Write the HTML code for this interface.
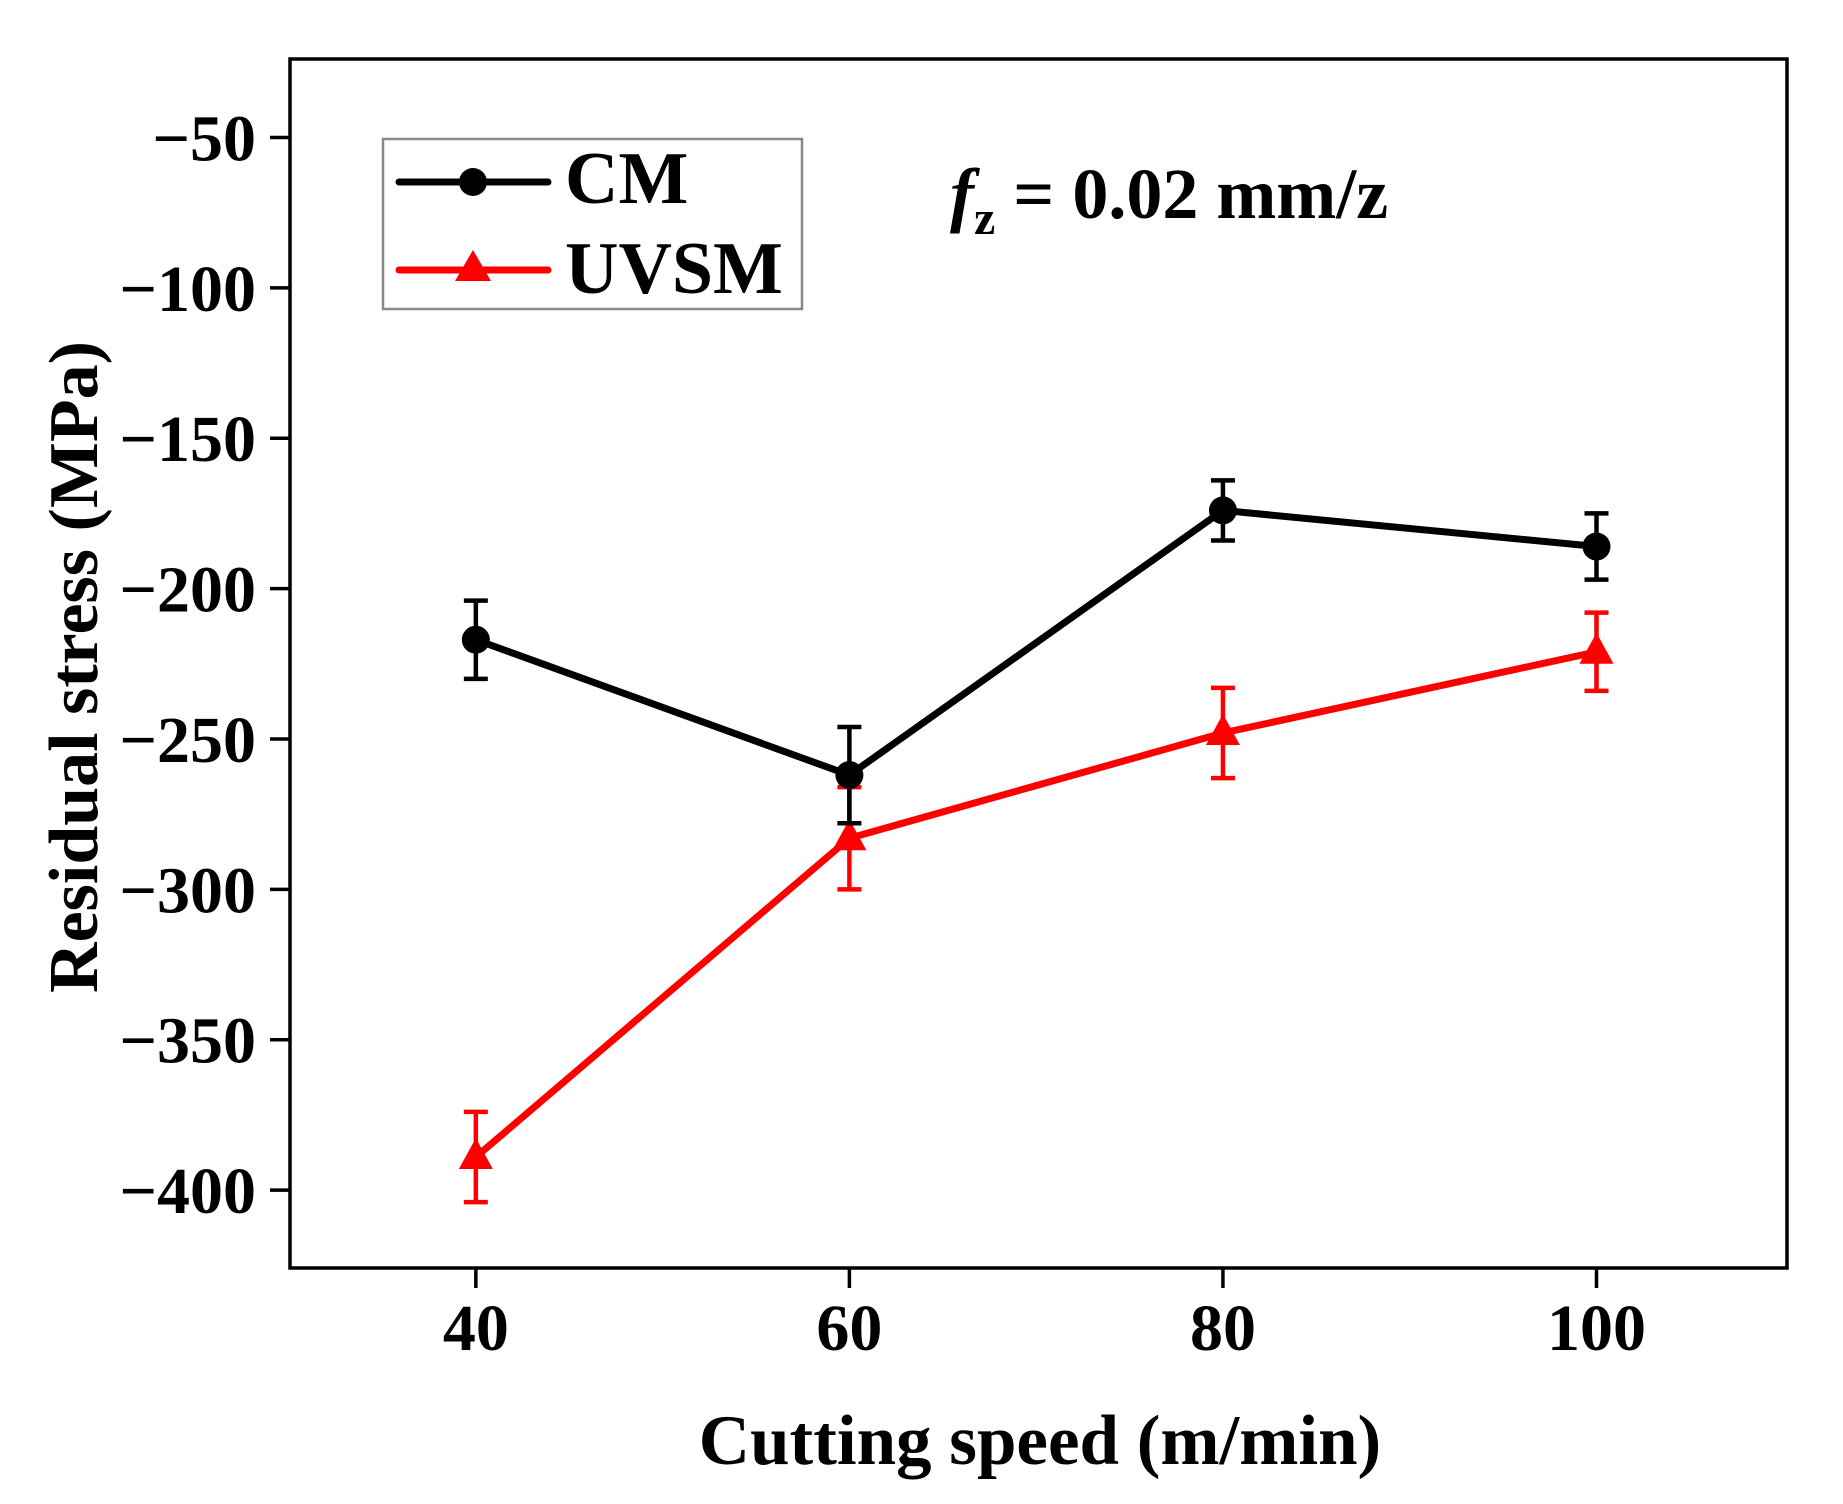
<!DOCTYPE html>
<html><head><meta charset="utf-8"><style>
html,body{margin:0;padding:0;background:#fff;}
svg{display:block;font-family:"Liberation Serif",serif;font-weight:bold;}
</style></head><body>
<svg id="chart" width="1843" height="1504" viewBox="0 0 1843 1504" xmlns="http://www.w3.org/2000/svg">
<rect x="290" y="59" width="1497" height="1209" fill="none" stroke="#000" stroke-width="3.5"/>
<g id="axes"></g>
<g id="series"></g>
<g>
<rect x="383" y="139" width="419" height="170" fill="#fff" stroke="#888" stroke-width="2.5"/>
<g>
<line x1="399" y1="182" x2="548" y2="182" stroke="#000" stroke-width="7" stroke-linecap="round"/>
<circle cx="473" cy="182" r="14" fill="#000"/>
<text x="565" y="203" font-size="74">CM</text>
</g>
<g>
<line x1="399" y1="270" x2="548" y2="270" stroke="#f00" stroke-width="7" stroke-linecap="round"/>
<polygon points="473,250 455,281 491,281" fill="#f00"/>
<text x="565" y="293" font-size="74">UVSM</text>
</g>
</g>
<text x="950" y="218" font-size="72"><tspan font-style="italic">f</tspan><tspan font-size="48" dy="16">z</tspan><tspan dy="-16"> = 0.02 mm/z</tspan></text>
<text x="1040" y="1464" font-size="71" text-anchor="middle">Cutting speed (m/min)</text>
<text transform="translate(97,667) rotate(-90)" font-size="70" text-anchor="middle">Residual stress (MPa)</text>
</svg>
<script>
const categories = [40, 60, 80, 100];
const cmValues = [-217, -262, -174, -186];
const cmErrors = [13, 16, 10, 11];
const uvsmValues = [-389, -283, -248, -221];
const uvsmErrors = [15, 17, 15, 13];
const yTicks = [-50, -100, -150, -200, -250, -300, -350, -400];
const xTicks = [40, 60, 80, 100];

const NS = "http://www.w3.org/2000/svg";
const X0 = 290, X1 = 1787, Y0 = 59, Y1 = 1268;
const xMin = 30.05, xMax = 110.2, yMin = -425.9, yMax = -23.9;
function xs(v){ return X0 + (v - xMin) / (xMax - xMin) * (X1 - X0); }
function ys(v){ return Y1 - (v - yMin) / (yMax - yMin) * (Y1 - Y0); }
function mk(tag, attrs, parent){
  const e = document.createElementNS(NS, tag);
  for (const k in attrs) e.setAttribute(k, attrs[k]);
  parent.appendChild(e);
  return e;
}
const axes = document.getElementById('axes');
yTicks.forEach(t => {
  const y = ys(t);
  const l = mk('line', {x1: X0 - 20, y1: y, x2: X0, y2: y, stroke: '#000', 'stroke-width': 3.5}, axes);
  
  
  const tx = mk('text', {x: X0 - 34, y: y + 23, 'font-size': 66, 'text-anchor': 'end'}, axes);
  tx.textContent = '\u2212' + Math.abs(t);
  
  
});
xTicks.forEach(t => {
  const x = xs(t);
  const l = mk('line', {x1: x, y1: Y1, x2: x, y2: Y1 + 20, stroke: '#000', 'stroke-width': 3.5}, axes);
  
  
  const tx = mk('text', {x: x, y: Y1 + 82, 'font-size': 66, 'text-anchor': 'middle'}, axes);
  tx.textContent = t;
  
  
});
const series = document.getElementById('series');
function drawSeries(vals, errs, color, marker, name){
  const g = mk('g', {}, series);
  
  
  const pts = categories.map((c, i) => xs(c) + ',' + ys(vals[i])).join(' ');
  const pl = mk('polyline', {points: pts, fill: 'none', stroke: color, 'stroke-width': 7, 'stroke-linejoin': 'round'}, g);
  
  
  categories.forEach((c, i) => {
    const x = xs(c), y = ys(vals[i]);
    const yt = ys(vals[i] + errs[i]), yb = ys(vals[i] - errs[i]);
    const eb = mk('path', {d: `M${x},${yt}V${yb}M${x-12},${yt}H${x+12}M${x-12},${yb}H${x+12}`, stroke: color, 'stroke-width': 4.5, fill: 'none'}, g);
    
    
    let m;
    if (marker === 'circle') m = mk('circle', {cx: x, cy: y, r: 14, fill: color}, g);
    else m = mk('polygon', {points: `${x},${y-19} ${x-17},${y+12} ${x+17},${y+12}`, fill: color}, g);
    
    
  });
}
drawSeries(uvsmValues, uvsmErrors, '#f00', 'triangle', 'uvsm');
drawSeries(cmValues, cmErrors, '#000', 'circle', 'cm');
</script>
</body></html>
